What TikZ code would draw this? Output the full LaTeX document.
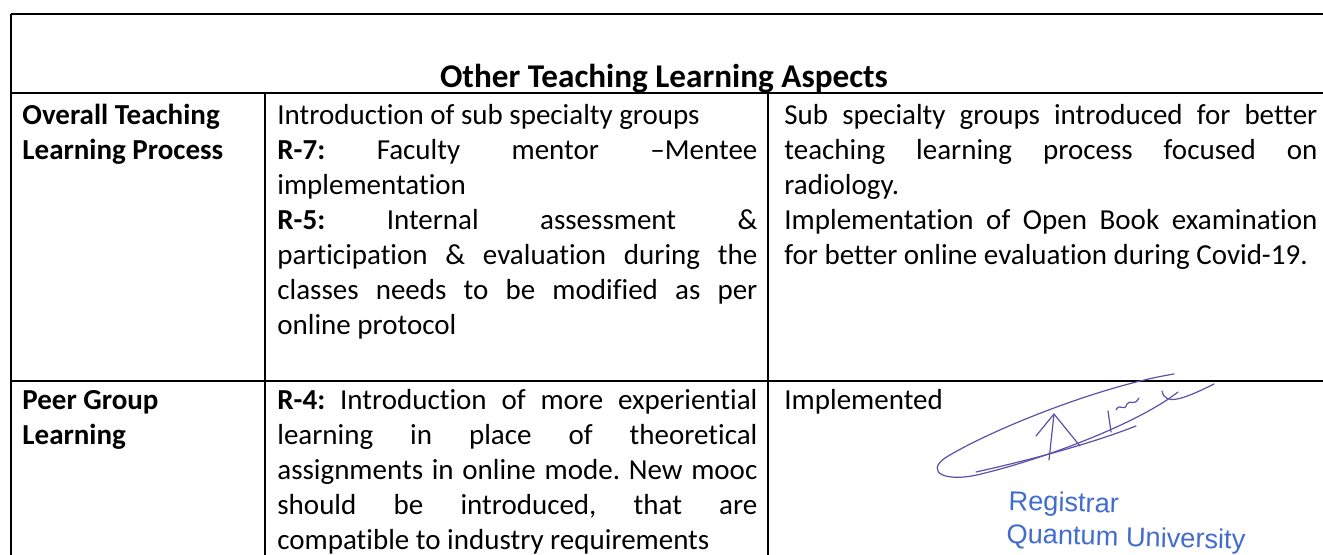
\documentclass[tikz,border=0pt]{standalone}
\usepackage{fontspec}
\setmainfont{Carlito}[Ligatures=CommonOff]
\newfontfamily\stampfont{Liberation Sans}
\setlength{\parindent}{0pt}
\frenchspacing
\newcommand{\tabfont}{\fontsize{14.5}{17.5}\selectfont}
\definecolor{inkpen}{RGB}{92,80,168}
\definecolor{stampblue}{RGB}{66,108,206}
\tikzset{%
  rule/.style={draw=black,line width=1pt},
  cell/.style={anchor=north west,inner sep=0,text width=#1,align=justify,font=\tabfont},
  head/.style={anchor=base,inner sep=0,font=\fontsize{16.6}{20}\selectfont\bfseries},
  sigline/.style={draw=inkpen,line width=0.6pt,line cap=round,line join=round},
  stamp/.style={anchor=base west,inner sep=0,text=stampblue,font=\stampfont\fontsize{13.6}{16}\selectfont,rotate=-1.5}
}
\begin{document}
\begin{tikzpicture}[x=0.5pt,y=-0.5pt]
    \useasboundingbox (0,0) rectangle (1323,555);
    % grid of the table
    \draw[rule] (11,14) -- (1323,14);
    \draw[rule] (11,93) -- (1323,93);
    \draw[rule] (11,381) -- (1323,381);
    \draw[rule] (11,14) -- (11,555);
    \draw[rule] (265,93) -- (265,555);
    \draw[rule] (768,93) -- (768,555);
    \path
      (664,88) node (title)[head]{Other Teaching Learning Aspects}
      (22,99.5) node (p1)[cell=115pt]{\strut\textbf{Overall Teaching}\par\textbf{Learning Process}}
      (277,99.5) node (r1)[cell=240pt]{\strut Introduction of sub specialty groups\par
        \textbf{R-7:} Faculty mentor –Mentee\linebreak implementation\par
        \textbf{R-5:} Internal assessment \&\linebreak participation \& evaluation during the\linebreak
        classes needs to be modified as per\linebreak online protocol}
      (784,99.5) node (s1)[cell=266.5pt]{\strut Sub specialty groups introduced for better\linebreak
        teaching learning process focused on\linebreak radiology.\par
        Implementation of Open Book examination\linebreak for better online evaluation during Covid-19.}
      (22,385) node (p2)[cell=115pt]{\strut\textbf{Peer Group}\par\textbf{Learning}}
      (277,385) node (r2)[cell=240pt]{\strut\textbf{R-4:} Introduction of more experiential\linebreak
        learning in place of theoretical\linebreak assignments in online mode. New mooc\linebreak
        should be introduced, that are\linebreak compatible to industry requirements}
      (784,385) node (s2)[cell=266.5pt]{\strut Implemented};
    % signature
    \draw[sigline] (1174,374) .. controls (1100,386) and (990,430) .. (945,458)
      .. controls (925,472) and (945,484) .. (985,473)
      .. controls (1050,457) and (1140,422) .. (1178,392);
    \draw[sigline] (976,472) .. controls (1030,460) and (1090,444) .. (1136,426);
    \draw[sigline] (1036,436) -- (1054,414) -- (1049,460);
    \draw[sigline] (1054,414) -- (1080,446);
    \draw[sigline] (1108,411) -- (1111,432);
    \draw[sigline] (1116,410) .. controls (1120,402) and (1124,413) .. (1127,404)
      .. controls (1130,399) and (1134,407) .. (1139,398);
    \draw[sigline] (1162,391) .. controls (1165,405) and (1180,401) .. (1214,384);
    \path
      (1008,510) node (reg)[stamp]{Registrar}
      (1006,543) node (uni)[stamp]{Quantum University};
\end{tikzpicture}
\end{document}
